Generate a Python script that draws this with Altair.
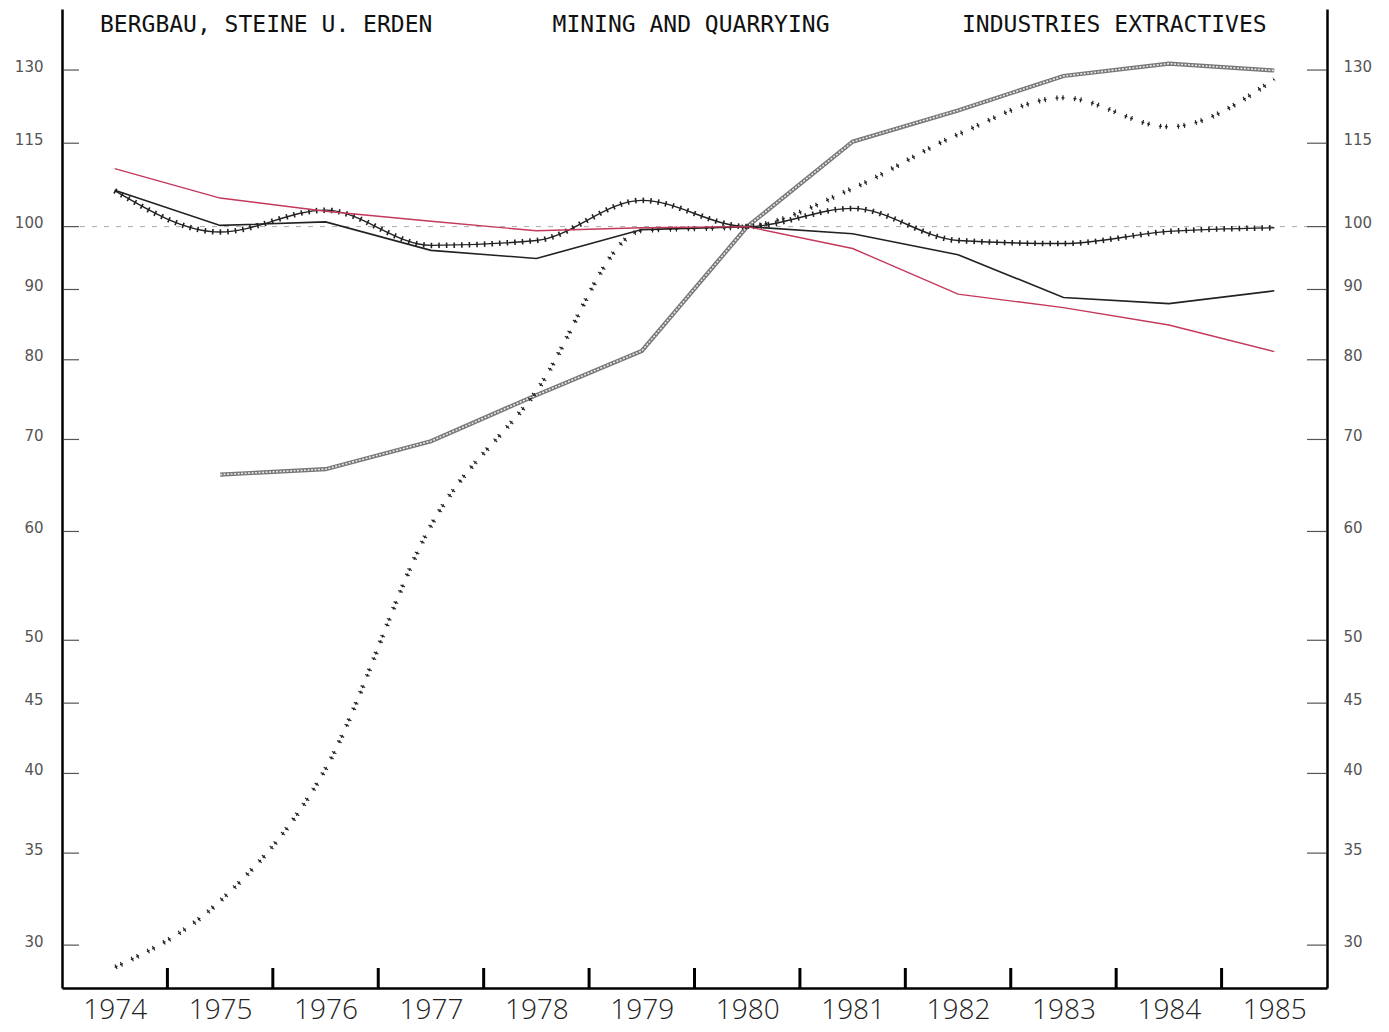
import altair as alt
import pandas as pd

years = [1974, 1975, 1976, 1977, 1978, 1979, 1980, 1981, 1982, 1983, 1984, 1985]
red_vals = [110.2, 104.9, 102.6, 100.9, 99.3, 99.8, 100.0, 96.4, 89.3, 87.3, 84.8, 81.1]
black_vals = [106.3, 100.2, 100.8, 96.1, 94.8, 99.5, 100.0, 98.8, 95.4, 88.8, 87.9, 89.8]
plus_vals = [106.2, 99.1, 102.8, 96.9, 97.7, 104.5, 100.0, 103.1, 97.7, 97.2, 99.2, 99.8]
steep_vals = [28.9, 32.3, 40.3, 60.6, 75.9, 99.3, 100.0, 106.6, 116.7, 124.1, 118.2, 128.0]
hatch_years = [1975, 1976, 1977, 1978, 1979, 1980, 1981, 1982, 1983, 1984, 1985]
hatch_vals = [66.0, 66.6, 69.8, 75.4, 81.2, 100.0, 115.3, 121.5, 128.7, 131.4, 129.9]
y_ticks = [30, 35, 40, 45, 50, 60, 70, 80, 90, 100, 115, 130]
x_tick_pos = [1974.5, 1975.5, 1976.5, 1977.5, 1978.5, 1979.5, 1980.5, 1981.5, 1982.5, 1983.5, 1984.5]
titles = ["BERGBAU, STEINE U. ERDEN", "MINING AND QUARRYING", "INDUSTRIES EXTRACTIVES"]

W, H = 1265, 979
xscale = alt.Scale(domain=[1973.5, 1985.5], nice=False, zero=False)
yscale = alt.Scale(type="log", domain=[27.92, 144.0], nice=False)

x_axis = alt.Axis(values=years, format="d", ticks=False, grid=False, labelFontSize=28,
                  labelFont="Open Sans", labelFontWeight=300, labelColor="#222",
                  labelPadding=8, labelFlush=False, labelOverlap=False,
                  domainColor="black", domainWidth=2.5, title=None)

left_axis = alt.Axis(values=y_ticks, format="d", ticks=False, grid=False, labelFontSize=15,
                     labelFont="DejaVu Sans", labelColor="#555", labelPadding=19,
                     labelOffset=-4, labelOverlap=False, domainColor="black",
                     domainWidth=2.5, title=None, orient="left")
right_axis = alt.Axis(values=y_ticks, format="d", ticks=False, grid=False, labelFontSize=15,
                      labelFont="DejaVu Sans", labelColor="#555", labelPadding=16,
                      labelOffset=-4, labelOverlap=False, domainColor="black",
                      domainWidth=2.5, title=None, orient="right")


def df_of(xs, vs):
    return pd.DataFrame({"year": xs, "value": vs})


def line(df, color, width, dash=None, offset=None, interp="linear"):
    kw = dict(color=color, strokeWidth=width, interpolate=interp, strokeCap="butt")
    if dash is not None:
        kw["strokeDash"] = dash
    if offset is not None:
        kw["strokeDashOffset"] = offset
    return alt.Chart(df).mark_line(**kw).encode(
        x=alt.X("year:Q", scale=xscale, axis=x_axis),
        y=alt.Y("value:Q", scale=yscale, axis=None),
    )


tick_df = pd.DataFrame({"value": y_ticks})
left_ticks = alt.Chart(tick_df).mark_rule(color="#555", strokeWidth=1.2).encode(
    y=alt.Y("value:Q", scale=yscale, axis=left_axis),
    x=alt.value(2), x2=alt.value(17))
right_ticks = alt.Chart(tick_df).mark_rule(color="#555", strokeWidth=1.2).encode(
    y=alt.Y("value:Q", scale=yscale, axis=right_axis),
    x=alt.value(W - 20), x2=alt.value(W - 1))

xt_df = pd.DataFrame({"year": x_tick_pos})
x_ticks = alt.Chart(xt_df).mark_rule(color="black", strokeWidth=3).encode(
    x=alt.X("year:Q", scale=xscale, axis=x_axis),
    y=alt.value(H - 20), y2=alt.value(H))

ref_line = alt.Chart(pd.DataFrame({"value": [100]})).mark_rule(
    color="#aaa", strokeWidth=1, strokeDash=[5, 7]).encode(
    y=alt.Y("value:Q", scale=yscale, axis=None),
    x=alt.value(18), x2=alt.value(W - 18))

red_df = df_of(years, red_vals)
black_df = df_of(years, black_vals)
plus_df = df_of(years, plus_vals)
steep_df = df_of(years, steep_vals)
hatch_df = df_of(hatch_years, hatch_vals)

layers = [
    ref_line,
    line(hatch_df, "#777", 4.2),
    line(hatch_df, "#e8e8e8", 1.6, dash=[2, 1.5]),
    line(steep_df, "#222", 1.3, dash=[3, 3, 3, 9], interp="monotone"),
    line(steep_df, "#222", 5, dash=[1.2, 4.8, 1.2, 10.8], offset=17.1, interp="monotone"),
    line(plus_df, "#222", 1.4, interp="monotone"),
    line(plus_df, "#222", 5.5, dash=[1.6, 6], interp="monotone"),
    line(black_df, "#222", 1.6),
    line(red_df, "#c4385a", 1.4),
    left_ticks,
    right_ticks,
    x_ticks,
]

title_pos = [(38, "left"), (629, "center"), (900, "left")]
for t, (px, al) in zip(titles, title_pos):
    layers.append(
        alt.Chart(pd.DataFrame({"t": [t]})).mark_text(
            font="DejaVu Sans Mono", fontSize=23, color="#111", align=al, baseline="middle"
        ).encode(text="t:N", x=alt.value(px), y=alt.value(16))
    )

chart = alt.layer(*layers).resolve_axis(y="independent").properties(
    width=W, height=H, autosize="none",
    padding={"left": 54, "top": 1, "right": 52, "bottom": 42},
    background="white",
).configure_view(stroke=None)

chart.save("out.html", embed_options={"renderer": "svg", "actions": False})
